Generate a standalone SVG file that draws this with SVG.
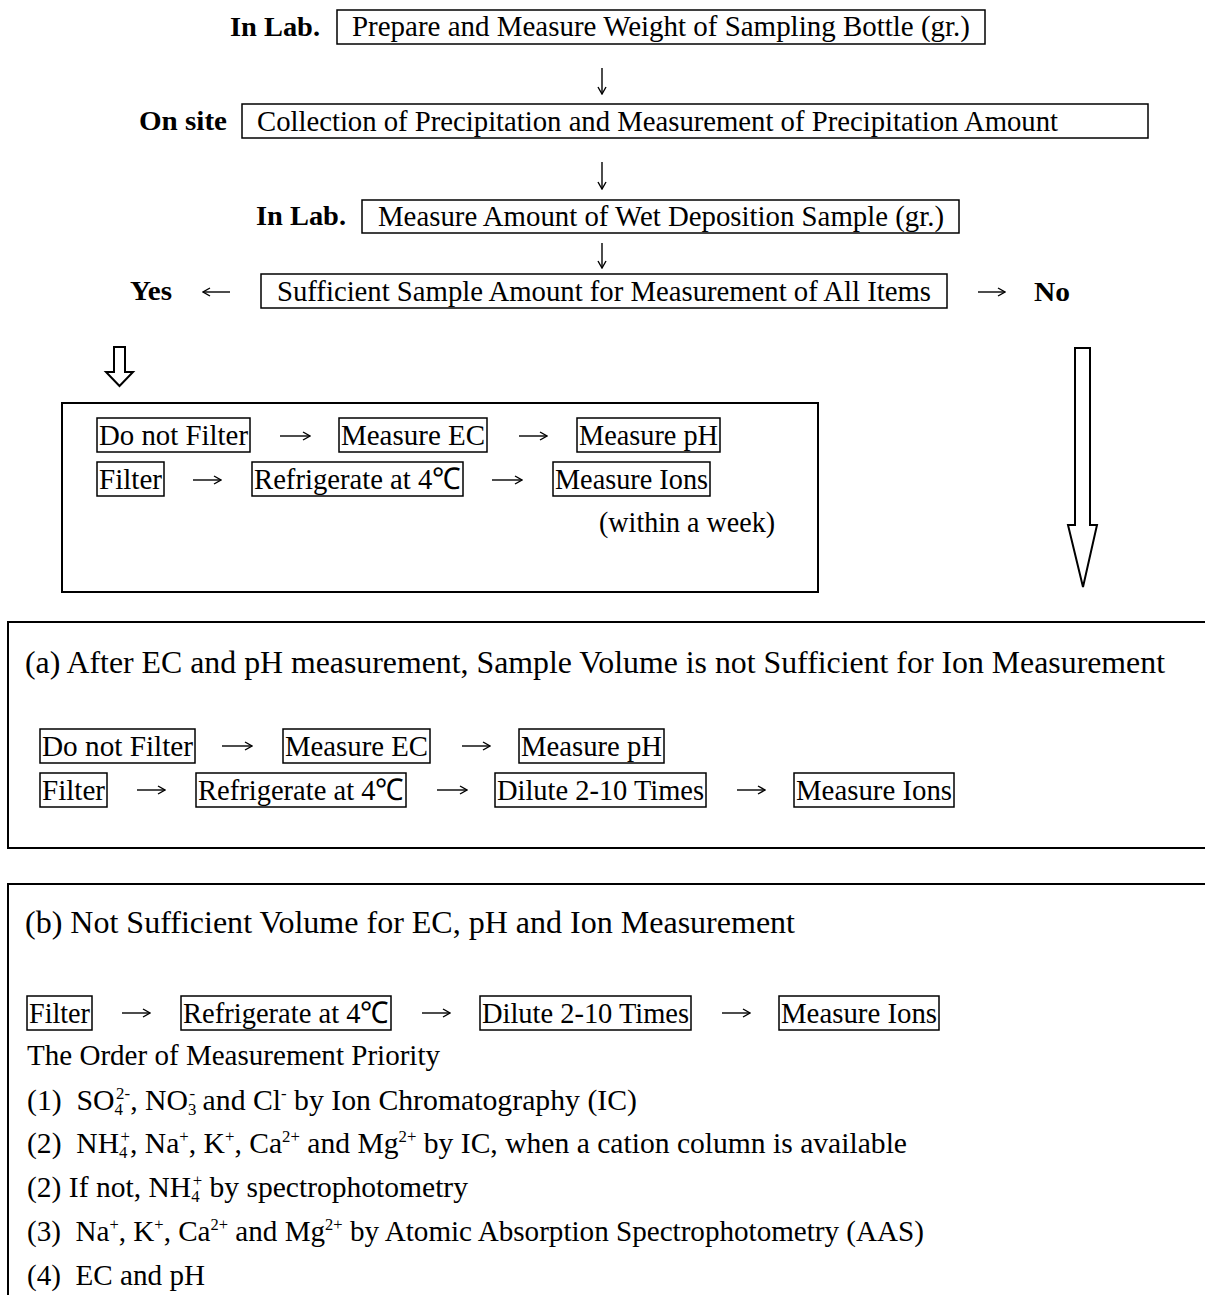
<svg xmlns="http://www.w3.org/2000/svg" width="1205" height="1295" viewBox="0 0 1205 1295">
<defs>
<style>
text{font-family:"Liberation Serif","Times New Roman",serif;fill:#000}
.t{font-size:30px}
.h{font-size:31px}
.b{font-size:28px;font-weight:bold}
.s{font-size:17px}
.box{fill:none;stroke:#000;stroke-width:1.5}
.frame{fill:none;stroke:#000;stroke-width:2}
.c{fill:none;stroke:#000;stroke-width:1.4}
.ha{fill:#fff;stroke:#000;stroke-width:2;stroke-linejoin:miter}
</style>
<marker id="ah" markerWidth="9" markerHeight="10" refX="8" refY="5" orient="auto" markerUnits="userSpaceOnUse">
<path d="M1,1 L8,5 L1,9" fill="none" stroke="#000" stroke-width="1.4"/>
</marker>
</defs>
<rect width="1205" height="1295" fill="#fff"/>

<g id="labels">
<text class="b" x="230" y="36" textLength="90" lengthAdjust="spacingAndGlyphs">In Lab.</text>
<text class="b" x="139" y="130" textLength="88" lengthAdjust="spacingAndGlyphs">On site</text>
<text class="b" x="256" y="225" textLength="90" lengthAdjust="spacingAndGlyphs">In Lab.</text>
<text class="b" x="130" y="300" textLength="42" lengthAdjust="spacingAndGlyphs">Yes</text>
<text class="b" x="1034" y="301" textLength="36" lengthAdjust="spacingAndGlyphs">No</text>
</g>

<g id="n-prepare">
<rect class="box" x="337" y="10" width="648" height="34"/>
<text class="t" x="352" y="36" textLength="618" lengthAdjust="spacingAndGlyphs">Prepare and Measure Weight of Sampling Bottle (gr.)</text>
</g>
<g id="n-collect">
<rect class="box" x="242" y="104" width="906" height="34"/>
<text class="t" x="257" y="131" textLength="801" lengthAdjust="spacingAndGlyphs">Collection of Precipitation and Measurement of Precipitation Amount</text>
</g>
<g id="n-measure-amount">
<rect class="box" x="362" y="200" width="597" height="33"/>
<text class="t" x="378" y="226" textLength="566" lengthAdjust="spacingAndGlyphs">Measure Amount of Wet Deposition Sample (gr.)</text>
</g>
<g id="n-sufficient">
<rect class="box" x="261" y="274" width="686" height="34"/>
<text class="t" x="277" y="301" textLength="654" lengthAdjust="spacingAndGlyphs">Sufficient Sample Amount for Measurement of All Items</text>
</g>

<g id="n-yes-panel">
<rect class="frame" x="62" y="403" width="756" height="189"/>
<g id="y-donotfilter"><rect class="box" x="97" y="418" width="153" height="34"/><text class="t" x="99" y="445" textLength="149" lengthAdjust="spacingAndGlyphs">Do not Filter</text></g>
<g id="y-ec"><rect class="box" x="339" y="418" width="148" height="34"/><text class="t" x="341" y="445" textLength="144" lengthAdjust="spacingAndGlyphs">Measure EC</text></g>
<g id="y-ph"><rect class="box" x="577" y="418" width="143" height="34"/><text class="t" x="579" y="445" textLength="139" lengthAdjust="spacingAndGlyphs">Measure pH</text></g>
<g id="y-filter"><rect class="box" x="97" y="462" width="67" height="34"/><text class="t" x="99" y="489" textLength="63" lengthAdjust="spacingAndGlyphs">Filter</text></g>
<g id="y-refr"><rect class="box" x="252" y="462" width="211" height="34"/><text class="t" x="254" y="489" textLength="207" lengthAdjust="spacingAndGlyphs">Refrigerate at 4℃</text></g>
<g id="y-ions"><rect class="box" x="553" y="462" width="157" height="34"/><text class="t" x="555" y="489" textLength="153" lengthAdjust="spacingAndGlyphs">Measure Ions</text></g>
<text class="t" x="599" y="532" textLength="176" lengthAdjust="spacingAndGlyphs">(within a week)</text>
</g>

<g id="n-panel-a">
<rect class="frame" x="8" y="622" width="1210" height="226"/>
<text class="h" x="25" y="673" textLength="1140" lengthAdjust="spacingAndGlyphs">(a) After EC and pH measurement, Sample Volume is not Sufficient for Ion Measurement</text>
<g id="a-donotfilter"><rect class="box" x="40" y="729" width="155" height="34"/><text class="t" x="42" y="756" textLength="151" lengthAdjust="spacingAndGlyphs">Do not Filter</text></g>
<g id="a-ec"><rect class="box" x="283" y="729" width="147" height="34"/><text class="t" x="285" y="756" textLength="143" lengthAdjust="spacingAndGlyphs">Measure EC</text></g>
<g id="a-ph"><rect class="box" x="519" y="729" width="145" height="34"/><text class="t" x="521" y="756" textLength="141" lengthAdjust="spacingAndGlyphs">Measure pH</text></g>
<g id="a-filter"><rect class="box" x="40" y="773" width="67" height="34"/><text class="t" x="42" y="800" textLength="63" lengthAdjust="spacingAndGlyphs">Filter</text></g>
<g id="a-refr"><rect class="box" x="196" y="773" width="210" height="34"/><text class="t" x="198" y="800" textLength="206" lengthAdjust="spacingAndGlyphs">Refrigerate at 4℃</text></g>
<g id="a-dilute"><rect class="box" x="495" y="773" width="211" height="34"/><text class="t" x="497" y="800" textLength="207" lengthAdjust="spacingAndGlyphs">Dilute 2-10 Times</text></g>
<g id="a-ions"><rect class="box" x="794" y="773" width="160" height="34"/><text class="t" x="796" y="800" textLength="156" lengthAdjust="spacingAndGlyphs">Measure Ions</text></g>
</g>

<g id="n-panel-b">
<rect class="frame" x="8" y="884" width="1210" height="430"/>
<text class="h" x="25" y="933" textLength="770" lengthAdjust="spacingAndGlyphs">(b) Not Sufficient Volume for EC, pH and Ion Measurement</text>
<g id="b-filter"><rect class="box" x="27" y="996" width="65" height="34"/><text class="t" x="29" y="1023" textLength="61" lengthAdjust="spacingAndGlyphs">Filter</text></g>
<g id="b-refr"><rect class="box" x="181" y="996" width="210" height="34"/><text class="t" x="183" y="1023" textLength="206" lengthAdjust="spacingAndGlyphs">Refrigerate at 4℃</text></g>
<g id="b-dilute"><rect class="box" x="480" y="996" width="211" height="34"/><text class="t" x="482" y="1023" textLength="207" lengthAdjust="spacingAndGlyphs">Dilute 2-10 Times</text></g>
<g id="b-ions"><rect class="box" x="779" y="996" width="160" height="34"/><text class="t" x="781" y="1023" textLength="156" lengthAdjust="spacingAndGlyphs">Measure Ions</text></g>
<text class="t" x="27" y="1065" textLength="413" lengthAdjust="spacingAndGlyphs">The Order of Measurement Priority</text>
<text class="t" x="27" y="1110" xml:space="preserve" textLength="610" lengthAdjust="spacingAndGlyphs">(1)  SO<tspan class="s" dy="5">4</tspan><tspan class="s" dx="-7" dy="-16">2-</tspan><tspan dy="11">, NO</tspan><tspan class="s" dy="5">3</tspan><tspan class="s" dx="-7" dy="-16">-</tspan><tspan dy="11"> and Cl</tspan><tspan class="s" dy="-11">-</tspan><tspan dy="11"> by Ion Chromatography (IC)</tspan></text>
<text class="t" x="27" y="1153" xml:space="preserve" textLength="880" lengthAdjust="spacingAndGlyphs">(2)  NH<tspan class="s" dy="5">4</tspan><tspan class="s" dx="-7" dy="-16">+</tspan><tspan dy="11">, Na</tspan><tspan class="s" dy="-11">+</tspan><tspan dy="11">, K</tspan><tspan class="s" dy="-11">+</tspan><tspan dy="11">, Ca</tspan><tspan class="s" dy="-11">2+</tspan><tspan dy="11"> and Mg</tspan><tspan class="s" dy="-11">2+</tspan><tspan dy="11"> by IC, when a cation column is available</tspan></text>
<text class="t" x="27" y="1197" xml:space="preserve" textLength="441" lengthAdjust="spacingAndGlyphs">(2) If not, NH<tspan class="s" dy="5">4</tspan><tspan class="s" dx="-7" dy="-16">+</tspan><tspan dy="11"> by spectrophotometry</tspan></text>
<text class="t" x="27" y="1241" xml:space="preserve" textLength="897" lengthAdjust="spacingAndGlyphs">(3)  Na<tspan class="s" dy="-11">+</tspan><tspan dy="11">, K</tspan><tspan class="s" dy="-11">+</tspan><tspan dy="11">, Ca</tspan><tspan class="s" dy="-11">2+</tspan><tspan dy="11"> and Mg</tspan><tspan class="s" dy="-11">2+</tspan><tspan dy="11"> by Atomic Absorption Spectrophotometry (AAS)</tspan></text>
<text class="t" x="27" y="1285" xml:space="preserve" textLength="178" lengthAdjust="spacingAndGlyphs">(4)  EC and pH</text>
</g>

<g id="connectors">
<path class="c" d="M602,68 V94" marker-end="url(#ah)"/>
<path class="c" d="M602,162 V189" marker-end="url(#ah)"/>
<path class="c" d="M602,243 V268" marker-end="url(#ah)"/>
<path class="c" d="M230,292 H203" marker-end="url(#ah)"/>
<path class="c" d="M978,292 H1005" marker-end="url(#ah)"/>
<path class="c" d="M280,436 H310" marker-end="url(#ah)"/>
<path class="c" d="M519,436 H547" marker-end="url(#ah)"/>
<path class="c" d="M193,480 H221" marker-end="url(#ah)"/>
<path class="c" d="M492,480 H522" marker-end="url(#ah)"/>
<path class="c" d="M222,746 H252" marker-end="url(#ah)"/>
<path class="c" d="M462,746 H490" marker-end="url(#ah)"/>
<path class="c" d="M137,790 H165" marker-end="url(#ah)"/>
<path class="c" d="M437,790 H467" marker-end="url(#ah)"/>
<path class="c" d="M737,790 H765" marker-end="url(#ah)"/>
<path class="c" d="M122,1013 H150" marker-end="url(#ah)"/>
<path class="c" d="M422,1013 H450" marker-end="url(#ah)"/>
<path class="c" d="M722,1013 H750" marker-end="url(#ah)"/>
<path class="ha" d="M114,347 H125 V372 H133 L119.5,386 L106,372 H114 Z"/>
<path class="ha" d="M1075,348 H1090 V525 H1097 L1083,587 L1068,525 H1075 Z"/>
</g>
</svg>
